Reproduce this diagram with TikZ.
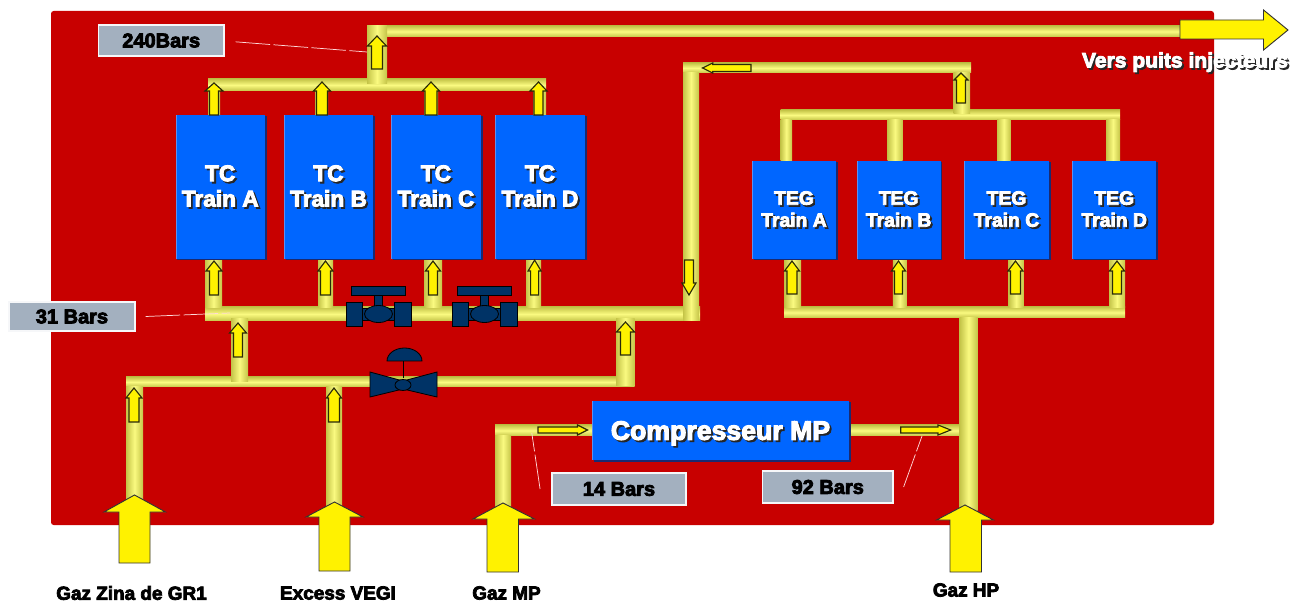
\documentclass[tikz,border=0pt]{standalone}
\usepackage{fontspec}
\setmainfont[FakeBold=4]{Liberation Sans Bold}
\definecolor{redbg}{HTML}{C80000}
\definecolor{pipeedge}{HTML}{C4C448}
\definecolor{pipelight}{HTML}{FAFA80}
\definecolor{boxblue}{HTML}{0066FF}
\definecolor{boxshadow}{HTML}{1A2A70}
\definecolor{boxedge}{HTML}{5C90F0}
\definecolor{labelgrey}{HTML}{A3B0BF}
\definecolor{valveblue}{HTML}{003366}
\definecolor{arrowline}{HTML}{2A2A08}
\newcommand{\shadowtext}[1]{\leavevmode\rlap{\kern1.4pt\raisebox{-1.4pt}{\textcolor{black!85}{#1}}}\textcolor{white}{#1}}
\newcommand{\pipeH}[4]{\shade[hpipe] (#1,#3) rectangle (#2,#4);}
\newcommand{\pipeV}[4]{\shade[vpipe] (#1,#3) rectangle (#2,#4);}
% cx tip base end shafthalf headhalf
\newcommand{\arrV}[6]{\filldraw[flowarrow] (#1,#2) -- ({#1+#6},#3) -- ({#1+#5},#3) -- ({#1+#5},#4) -- ({#1-#5},#4) -- ({#1-#5},#3) -- ({#1-#6},#3) -- cycle;}
% cy tip base end shafthalf headhalf
\newcommand{\arrH}[6]{\filldraw[flowarrow] (#2,#1) -- (#3,{#1+#6}) -- (#3,{#1+#5}) -- (#4,{#1+#5}) -- (#4,{#1-#5}) -- (#3,{#1-#5}) -- (#3,{#1-#6}) -- cycle;}
\newcommand{\bluebox}[7]{%
  \fill[boxshadow] ({#2+1.5},{#3+1.5}) rectangle ({#4+1.5},{#5+1.5});
  \node[bluestyle,minimum width={(#4-#2)*0.75pt},minimum height={(#5-#3)*0.75pt},font=#6] (#1) at ({(#2+#4)/2},{(#3+#5)/2}) {#7};
  \fill[boxedge] (#2,#3) rectangle ({#2+1},#5);}
\newcommand{\greybox}[6]{%
  \node[greystyle,minimum width={(#4-#2)*0.75pt},minimum height={(#5-#3)*0.75pt}] (#1) at ({(#2+#4)/2},{(#3+#5)/2}) {#6};}
\newcommand{\gatevalve}[1]{%
  \begin{scope}[shift={(#1,0)}]
    \draw[valvestyle] (-27,286) rectangle (27,295);
    \draw[valvestyle] (-4,295) rectangle (4,306);
    \draw[valvestyle] (-20,308) rectangle (20,320);
    \draw[valvestyle] (0,314) ellipse (14 and 8.5);
    \draw[valvestyle] (-32.5,302) rectangle (-16,326);
    \draw[valvestyle] (16,302) rectangle (32.5,326);
  \end{scope}}
\tikzset{
  x=0.75pt,y=-0.75pt,
  hpipe/.style={top color=pipeedge,bottom color=pipeedge,middle color=pipelight,draw=none},
  vpipe/.style={left color=pipeedge,right color=pipeedge,middle color=pipelight,draw=none},
  flowarrow/.style={fill=yellow,draw=arrowline,line width=0.85pt,line join=miter},
  bigarrow/.style={fill=yellow,draw=black!80,line width=0.7pt,line join=miter},
  bluestyle/.style={fill=boxblue,inner sep=0pt,align=center,text=white},
  greystyle/.style={fill=labelgrey,draw=white!90!labelgrey,line width=0.9pt,inner sep=0pt,text=black,font=\fontsize{15}{18}\selectfont},
  valvestyle/.style={fill=valveblue,draw=black,line width=0.6pt},
  leader/.style={draw=white!85!red,line width=0.55pt,dash pattern=on 26pt off 2.5pt},
  caption/.style={inner sep=0pt,text=black,font=\fontsize{14.2}{17}\selectfont},
}
\begin{document}
\begin{tikzpicture}
\useasboundingbox (0,0) rectangle (1304,602);
\fill[white] (0,0) rectangle (1304,602);
\fill[redbg,rounded corners=2pt] (51,11) rectangle (1214,525);
% horizontal pipes
\pipeH{387}{1184}{26}{37}
\pipeH{208}{546}{79}{91}
\pipeH{205}{700}{307}{321}
\pipeH{126}{634.6}{377}{387}
\pipeH{495}{592}{425}{436}
\pipeH{849}{962}{425}{436}
\pipeH{683}{971}{63}{73}
\pipeH{780.6}{1120}{110}{120}
\pipeH{784}{1125}{307}{318}
% vertical pipes
\pipeV{367}{387}{26}{84}
\pipeV{208}{220}{91}{115}
\pipeV{315}{328}{91}{115}
\pipeV{424}{438}{91}{115}
\pipeV{533}{546}{91}{115}
\pipeV{205}{222}{259}{308}
\pipeV{318}{333}{259}{308}
\pipeV{424}{442}{259}{308}
\pipeV{526}{541}{259}{308}
\pipeV{683}{699}{73}{321}
\pipeV{231}{248}{319}{382}
\pipeV{616}{634.6}{319}{386}
\pipeV{126}{143}{387}{510}
\pipeV{326}{342}{387}{510}
\pipeV{495}{511}{436}{510}
\pipeV{959.6}{977.5}{318}{510}
\pipeV{953.7}{970}{73}{114}
\pipeV{780.6}{792}{120}{161}
\pipeV{887.5}{902.5}{120}{161}
\pipeV{997}{1010.6}{120}{161}
\pipeV{1106}{1120}{120}{161}
\pipeV{784.6}{801}{259}{308}
\pipeV{892.8}{906.6}{259}{308}
\pipeV{1008.6}{1023.7}{259}{308}
\pipeV{1109}{1125}{259}{308}
% process boxes
\def\tcfont{\fontsize{17}{19}\selectfont}
\def\tegfont{\fontsize{14.5}{16.5}\selectfont}
\bluebox{tca}{175.5}{115}{265}{259}{\tcfont}{\shadowtext{TC}\\\shadowtext{Train A}}
\bluebox{tcb}{284}{115}{373}{259}{\tcfont}{\shadowtext{TC}\\\shadowtext{Train B}}
\bluebox{tcc}{391}{115}{481}{259}{\tcfont}{\shadowtext{TC}\\\shadowtext{Train C}}
\bluebox{tcd}{495}{115}{585}{259}{\tcfont}{\shadowtext{TC}\\\shadowtext{Train D}}
\bluebox{tega}{752}{161}{836}{259}{\tegfont}{\shadowtext{TEG}\\\shadowtext{Train A}}
\bluebox{tegb}{856.6}{161}{940.7}{259}{\tegfont}{\shadowtext{TEG}\\\shadowtext{Train B}}
\bluebox{tegc}{964}{161}{1049}{259}{\tegfont}{\shadowtext{TEG}\\\shadowtext{Train C}}
\bluebox{tegd}{1072.4}{161}{1156}{259}{\tegfont}{\shadowtext{TEG}\\\shadowtext{Train D}}
\bluebox{comp}{592}{401}{849}{460}{\fontsize{20}{22}\selectfont}{\rule{0pt}{19.5pt}\shadowtext{Compresseur MP}}
% small flow arrows
\arrV{377}{36}{46}{69}{5.5}{9.5}
\arrV{214}{83}{91}{115}{4.5}{9}
\arrV{322}{82}{91}{115}{5.5}{8.5}
\arrV{431}{82}{91}{115}{6}{8.5}
\arrV{538.5}{82}{91}{115}{4.5}{8.5}
\arrV{214}{261}{271}{295}{4.5}{8}
\arrV{325.5}{261}{271}{295}{5}{7.5}
\arrV{433}{261}{271}{295}{4.5}{7.5}
\arrV{534.6}{260}{271}{295}{4}{6.5}
\arrV{238}{323}{333}{357}{4.5}{8.5}
\arrV{625.5}{322}{332}{355}{5}{9}
\arrV{134}{388}{398}{422}{5}{8}
\arrV{334}{388}{398}{422}{5.5}{7.5}
\arrV{689}{295}{283}{260}{4.5}{7}
\arrV{792}{261}{271}{294}{5}{7.5}
\arrV{898.5}{261}{271}{294}{4}{7}
\arrV{1015.5}{261}{271}{294}{5}{7.5}
\arrV{1117}{261}{271}{294}{4.5}{7.5}
\arrV{961}{73}{80}{103}{4.5}{7}
\arrH{68}{702.5}{712.7}{751}{3.5}{5}
\arrH{430}{587.5}{577.5}{538}{3}{5}
\arrH{430}{950.7}{938}{900.7}{3}{5}
% valves
\gatevalve{378.5}
\gatevalve{484.5}
\begin{scope}
  \draw[valvestyle] (403,361) -- (403,378);
  \draw[valvestyle] (387,361) arc[start angle=180,end angle=0,x radius=17.5,y radius=-13] -- cycle;
  \draw[valvestyle] (370,372) -- (403,381) -- (437,372) -- (437,397) -- (403,389) -- (370,397) -- cycle;
  \draw[valvestyle] (403,385) ellipse (8 and 5.5);
\end{scope}
% big arrows
\filldraw[bigarrow] (1288,30) -- (1263.5,10) -- (1263.5,20) -- (1180,20) -- (1180,39) -- (1263.5,39) -- (1263.5,50) -- cycle;
\filldraw[bigarrow] (134.5,495) -- (165.5,512) -- (150,512) -- (150,563) -- (119,563) -- (119,512) -- (104,512) -- cycle;
\filldraw[bigarrow] (334.5,502) -- (363,517) -- (350,517) -- (350,571) -- (319,571) -- (319,517) -- (306,517) -- cycle;
\filldraw[bigarrow] (503,503) -- (534.5,519) -- (518.5,519) -- (518.5,572) -- (487,572) -- (487,519) -- (473,519) -- cycle;
\filldraw[bigarrow] (965,505) -- (993.5,520) -- (981.5,520) -- (981.5,572) -- (950,572) -- (950,520) -- (936.5,520) -- cycle;
% pressure labels
\greybox{lbla}{98.5}{25}{224}{56}{240Bars}
\greybox{lblb}{9}{302}{135}{331}{31 Bars}
\greybox{lblc}{552}{473}{686}{505}{14 Bars}
\greybox{lbld}{762.5}{471}{893}{503}{92 Bars}
\coordinate (la) at (367,52);
\coordinate (lb) at (230,313);
\coordinate (lc) at (531.8,433);
\coordinate (ld) at (922,436);
\draw[leader] ([xshift=8.25pt,yshift=-1pt]lbla.east) -- (la);
\draw[leader] ([xshift=7.5pt]lblb.east) -- (lb);
\draw[leader] ([xshift=-8.5pt]lblc.west) -- (lc);
\draw[leader] ([xshift=7.5pt]lbld.east) -- (ld);
% captions
\node[caption] (capa) at (131.5,593) {Gaz Zina de GR1};
\node[caption] (capb) at (338,593) {Excess VEGI};
\node[caption] (capc) at (506.5,593) {Gaz MP};
\node[caption] (capd) at (966,590) {Gaz HP};
\node[inner sep=0pt,font=\fontsize{15.8}{18}\selectfont] (capout) at (1185,63) {\shadowtext{Vers puits injecteurs}};
\end{tikzpicture}
\end{document}
